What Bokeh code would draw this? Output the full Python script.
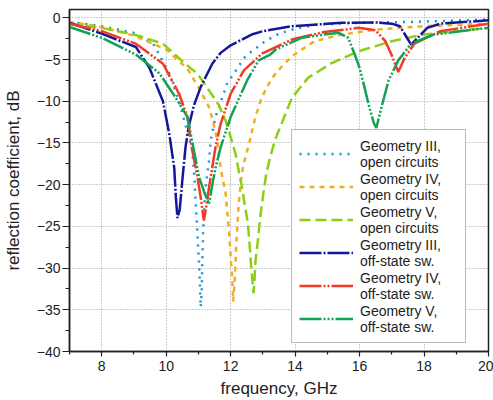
from bokeh.plotting import figure
from bokeh.models import Range1d, Legend, LegendItem, FixedTicker
from bokeh.embed import file_html
from bokeh.resources import INLINE

# Geometry III, open circuits
f1 = [7.0, 8.0, 9.0, 9.6, 10.1, 10.4, 10.81, 10.88, 10.92, 10.97, 11.02, 11.05, 11.07, 11.1, 11.12, 11.15,
      11.2, 11.27, 11.33, 11.38, 11.53, 11.89, 12.3, 12.46, 13.07, 13.5, 14.0, 14.7, 16.0, 17.5, 20.0]
d1 = [-0.5, -1.0, -1.8, -3.1, -6.7, -10.0, -15.9, -19.5, -22.5, -26.0, -29.5, -32.3, -34.7, -33.0, -29.5, -25.3,
      -21.1, -18.9, -17.1, -14.7, -11.9, -7.9, -5.5, -4.6, -2.8, -1.9, -1.3, -0.8, -0.6, -0.5, -0.2]

# Geometry IV, open circuits
f2 = [7.0, 8.0, 9.06, 10.0, 10.66, 11.0, 11.33, 11.43, 11.58, 11.64, 11.74, 11.84, 11.9, 11.96, 12.0, 12.05,
      12.08, 12.13, 12.17, 12.21, 12.25, 12.32, 12.4, 12.56, 12.76, 12.97, 13.2, 13.4, 13.9, 14.6, 15.45, 16.5,
      18.0, 20.0]
d2 = [-0.5, -1.1, -2.2, -3.8, -6.1, -8.3, -10.7, -12.1, -14.5, -16.7, -19.1, -20.9, -23.5, -26.1, -28.7, -31.3,
      -34.0, -31.3, -27.5, -24.7, -22.3, -19.5, -17.5, -15.3, -12.0, -9.5, -7.8, -6.6, -4.6, -2.8, -2.0, -1.4,
      -1.0, -0.7]

# Geometry V, open circuits
f3 = [7.0, 8.0, 9.0, 9.9, 10.56, 10.97, 11.33, 11.64, 11.84, 12.0, 12.15, 12.25, 12.35, 12.44, 12.53, 12.58,
      12.63, 12.68, 12.71, 12.74, 12.77, 12.84, 12.89, 12.95, 13.02, 13.1, 13.2, 13.37, 13.9, 14.4, 15.1, 15.97,
      17.0, 18.0, 20.0]
d3 = [-0.7, -1.2, -2.0, -3.1, -5.4, -6.7, -8.7, -10.5, -12.3, -14.3, -16.3, -18.3, -20.3, -22.5, -24.5, -26.7,
      -29.5, -31.8, -33.0, -31.5, -29.1, -26.9, -24.9, -22.9, -20.9, -18.8, -17.1, -14.7, -9.6, -7.2, -5.5, -4.0,
      -2.8, -2.0, -1.2]

# Geometry III, off-state sw.
f4 = [7.0, 8.0, 9.06, 9.48, 9.9, 10.1, 10.25, 10.3, 10.35, 10.42, 10.5, 10.6, 10.7, 10.86, 11.07, 11.43, 11.69,
      12.0, 12.65, 13.0, 13.9, 15.45, 16.5, 17.0, 17.25, 17.6, 18.1, 18.5, 20.0]
d4 = [-0.6, -1.9, -3.5, -6.0, -10.0, -14.0, -18.0, -21.5, -24.0, -23.0, -19.5, -15.5, -13.0, -10.5, -8.3, -5.5,
      -4.2, -3.3, -2.0, -1.6, -1.0, -0.6, -0.55, -0.7, -1.0, -3.2, -1.2, -0.7, -0.3]

# Geometry IV, off-state sw.
f5 = [7.0, 8.0, 9.06, 9.9, 10.4, 10.66, 10.81, 10.97, 11.07, 11.17, 11.25, 11.33, 11.53, 11.69, 12.0, 12.41,
      12.97, 13.9, 14.9, 15.97, 16.5, 16.8, 17.0, 17.2, 17.4, 17.7, 18.5, 20.0]
d5 = [-0.7, -1.6, -3.1, -5.5, -9.1, -11.9, -15.9, -19.1, -21.5, -24.3, -22.5, -20.3, -15.5, -12.7, -9.1, -6.3,
      -4.3, -2.6, -1.7, -1.2, -1.5, -2.8, -4.5, -6.5, -4.8, -3.1, -1.6, -0.7]

# Geometry V, off-state sw.
f6 = [7.0, 8.0, 9.06, 9.8, 10.3, 10.66, 10.86, 11.02, 11.2, 11.33, 11.43, 11.53, 11.69, 12.0, 12.51, 12.87,
      13.23, 13.4, 14.2, 14.9, 15.35, 15.65, 15.85, 16.0, 16.15, 16.3, 16.45, 16.52, 16.68, 16.9, 17.2, 17.6,
      18.3, 20.0]
d6 = [-1.1, -2.4, -4.4, -6.7, -9.6, -11.9, -15.9, -19.1, -21.1, -22.3, -20.0, -18.0, -15.5, -11.9, -7.5, -5.1,
      -4.4, -3.8, -2.4, -2.0, -1.8, -2.4, -4.4, -6.0, -8.3, -10.7, -12.7, -13.2, -10.7, -7.5, -5.1, -3.1,
      -2.0, -1.2]

labels = ["Geometry III,\nopen circuits", "Geometry IV,\nopen circuits", "Geometry V,\nopen circuits",
          "Geometry III,\noff-state sw.", "Geometry IV,\noff-state sw.", "Geometry V,\noff-state sw."]
x_ticks = [8, 10, 12, 14, 16, 18, 20]
y_ticks = [0, -5, -10, -15, -20, -25, -30, -35, -40]

FONT = "Liberation Sans"

p = figure(width=493, height=400, output_backend="svg", toolbar_location=None,
           x_range=Range1d(7, 20), y_range=Range1d(-40, 1),
           min_border_left=5, min_border_right=5, min_border_top=9, min_border_bottom=5)

p.outline_line_color = "#222222"
p.outline_line_width = 1.5
p.background_fill_color = "white"
p.border_fill_color = "white"

for ax in (p.xaxis[0], p.yaxis[0]):
    ax.axis_line_color = "#222222"
    ax.axis_line_width = 1.5
    ax.major_tick_line_color = "#222222"
    ax.minor_tick_line_color = "#222222"
    ax.major_tick_line_width = 1.2
    ax.minor_tick_line_width = 1.2
    ax.major_tick_in = 0
    ax.minor_tick_in = 0
    ax.major_label_text_font = FONT
    ax.major_label_text_font_size = "14px"
    ax.major_label_text_color = "#222222"
    ax.axis_label_text_font = FONT
    ax.axis_label_text_font_size = "17px"
    ax.axis_label_text_font_style = "normal"
    ax.axis_label_text_color = "#222222"

p.xaxis.ticker = FixedTicker(ticks=x_ticks, minor_ticks=[7, 9, 11, 13, 15, 17, 19])
p.yaxis.ticker = FixedTicker(ticks=y_ticks,
                             minor_ticks=[-2.5, -7.5, -12.5, -17.5, -22.5, -27.5, -32.5, -37.5])
p.xaxis.major_tick_out = 5
p.xaxis.minor_tick_out = 3
p.yaxis.major_tick_out = 7
p.yaxis.minor_tick_out = 4
p.xaxis.major_label_standoff = 4
p.yaxis.major_label_standoff = 2
p.xaxis.axis_label = "frequency, GHz"
p.yaxis.axis_label = "reflection coefficient, dB"
p.xaxis.axis_label_standoff = 5
p.yaxis.axis_label_standoff = 11

for g in (p.xgrid[0], p.ygrid[0]):
    g.grid_line_color = "#999999"
    g.grid_line_dash = "1 2"
    g.grid_line_width = 1
p.xgrid.ticker = FixedTicker(ticks=[8, 10, 12, 14, 16, 18])
p.ygrid.ticker = FixedTicker(ticks=[0, -5, -10, -15, -20, -25, -30, -35])

styles = [
    ("#1a90d4", "2 6"),
    ("#eeb020", "5 5"),
    ("#8ccf14", "11 5"),
    ("#16169a", "22 2 2 2"),
    ("#f23a26", "22 2 2 2 2 2"),
    ("#12a256", "22 2 2 2 2 2 2 2"),
]
series = [(f1, d1), (f2, d2), (f3, d3), (f4, d4), (f5, d5), (f6, d6)]

renderers = []
for (fx, dy), (col, dash) in zip(series, styles):
    r = p.line(fx, dy, line_color=col, line_width=2.5, line_dash=dash)
    renderers.append(r)

legend = Legend(items=[LegendItem(label=lab, renderers=[r]) for lab, r in zip(labels, renderers)],
                location=(222, 8))
legend.label_text_font = FONT
legend.label_text_font_size = "14px"
legend.label_text_color = "#222222"
legend.label_text_line_height = 1.05
legend.glyph_width = 54
legend.glyph_height = 33
legend.label_width = 98
legend.label_standoff = 7
legend.spacing = 0
legend.padding = 7
legend.margin = 0
legend.border_line_color = "#777777"
legend.border_line_width = 1.5
legend.background_fill_color = "white"
legend.background_fill_alpha = 1.0
p.add_layout(legend)

open("out.html", "w").write(file_html(p, INLINE))
